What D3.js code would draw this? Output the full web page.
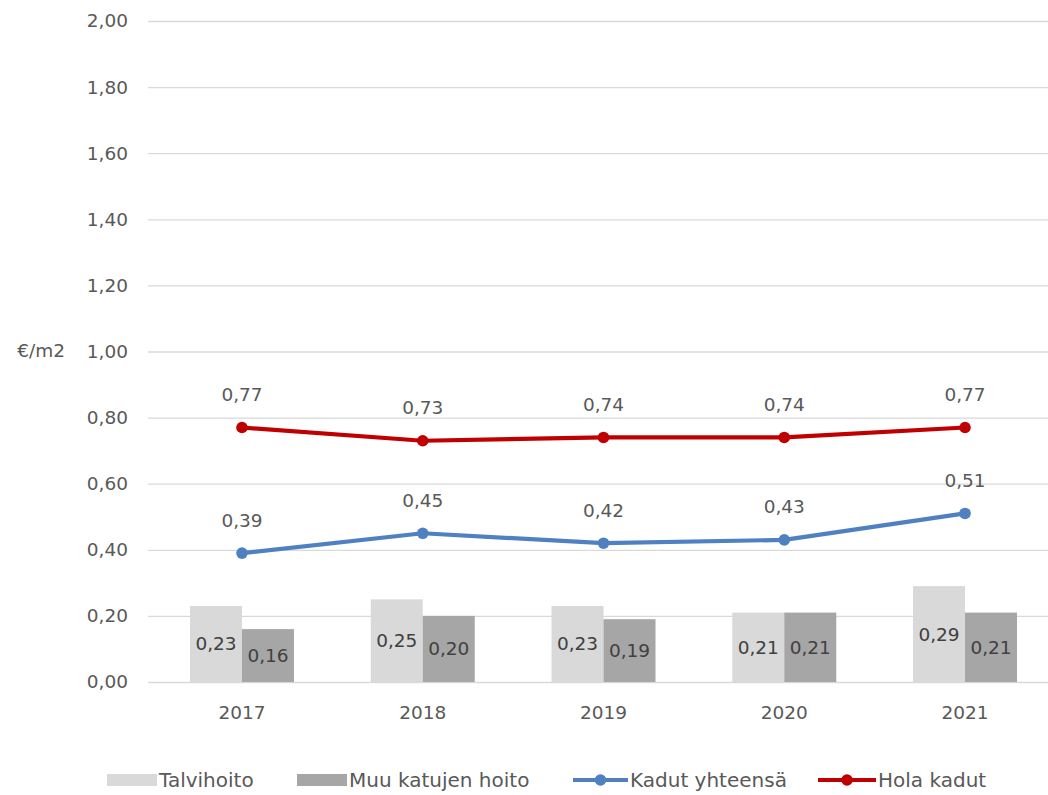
<!DOCTYPE html>
<html>
<head>
<meta charset="utf-8">
<script src="https://cdn.jsdelivr.net/npm/d3@7/dist/d3.min.js"></script>
<style>
  html, body { margin: 0; padding: 0; background: #fff; }
  svg { display: block; font-family: "DejaVu Sans", sans-serif; }
</style>
</head>
<body>
<svg id="chart" width="1048" height="795"></svg>
<script>
// Street maintenance cost per square metre, 2017–2021
const years = ["2017", "2018", "2019", "2020", "2021"];
const talvihoito = [0.23, 0.25, 0.23, 0.21, 0.29];
const muuHoito = [0.16, 0.20, 0.19, 0.21, 0.21];
const kadutYhteensa = [0.39, 0.45, 0.42, 0.43, 0.51];
const holaKadut = [0.77, 0.73, 0.74, 0.74, 0.77];
const yTicks = [0, 0.2, 0.4, 0.6, 0.8, 1.0, 1.2, 1.4, 1.6, 1.8, 2.0];
const seriesNames = ["Talvihoito", "Muu katujen hoito", "Kadut yhteensä", "Hola kadut"];

const colors = {
  talvi: "#d9d9d9",
  muu: "#a6a6a6",
  blue: "#4f81c2",
  red: "#c00000",
  text: "#595959",
  grid: "#d9d9d9"
};

const fmt = v => d3.format(".2f")(v).replace(".", ",");

const svg = d3.select("#chart");
const W = 1048;

const x = d3.scaleBand().domain(years).range([151.6, 1055.4]);
const y = d3.scaleLinear().domain([0, 2]).range([682, 21]);
const barW = 52;

// gridlines + y tick labels
const yAxis = d3.axisLeft(y)
  .tickValues(yTicks)
  .tickFormat(fmt)
  .tickSize(-(W - 148))
  .tickPadding(20);
const gy = svg.append("g").attr("transform", "translate(148,0)").call(yAxis);
gy.select(".domain").remove();
gy.selectAll(".tick line").attr("stroke", colors.grid).attr("stroke-width", 1.3);
gy.selectAll(".tick text")
  .attr("fill", colors.text)
  .attr("font-size", 18.5)
  .attr("font-family", "DejaVu Sans, sans-serif");

// y axis title
svg.append("text")
  .attr("x", 65).attr("y", y(1.0))
  .attr("dy", "0.32em")
  .attr("text-anchor", "end")
  .attr("fill", colors.text)
  .attr("font-size", 18.5)
  .text("€/m2");

// x axis labels
const xAxis = d3.axisBottom(x).tickSize(0).tickPadding(24);
const gx = svg.append("g").attr("transform", `translate(0,${y(0)})`).call(xAxis);
gx.select(".domain").remove();
gx.selectAll(".tick text")
  .attr("fill", colors.text)
  .attr("font-size", 18.5)
  .attr("font-family", "DejaVu Sans, sans-serif");

// bars
const cx = yr => x(yr) + x.bandwidth() / 2;
const barSeries = [
  { values: talvihoito, color: colors.talvi, offset: -barW },
  { values: muuHoito, color: colors.muu, offset: 0 }
];
barSeries.forEach(s => {
  const g = svg.append("g");
  g.selectAll("rect").data(years).join("rect")
    .attr("x", (d) => cx(d) + s.offset)
    .attr("width", barW)
    .attr("y", (d, i) => y(s.values[i]))
    .attr("height", (d, i) => y(0) - y(s.values[i]))
    .attr("fill", s.color);
  g.selectAll("text").data(years).join("text")
    .attr("x", d => cx(d) + s.offset + barW / 2)
    .attr("y", (d, i) => (y(s.values[i]) + y(0)) / 2)
    .attr("dy", "0.35em")
    .attr("text-anchor", "middle")
    .attr("fill", "#404040")
    .attr("font-size", 18.5)
    .text((d, i) => fmt(s.values[i]));
});

// lines with markers and labels
const lineSeries = [
  { values: kadutYhteensa, color: colors.blue },
  { values: holaKadut, color: colors.red }
];
const line = d3.line().x(d => cx(d.year)).y(d => y(d.v));
lineSeries.forEach(s => {
  const pts = years.map((yr, i) => ({ year: yr, v: s.values[i] }));
  const g = svg.append("g");
  g.append("path")
    .datum(pts)
    .attr("d", line)
    .attr("fill", "none")
    .attr("stroke", s.color)
    .attr("stroke-width", 4.2)
    .attr("stroke-linejoin", "round");
  g.selectAll("circle").data(pts).join("circle")
    .attr("cx", d => cx(d.year))
    .attr("cy", d => y(d.v))
    .attr("r", 5.8)
    .attr("fill", s.color);
  g.selectAll("text").data(pts).join("text")
    .attr("x", d => cx(d.year))
    .attr("y", d => y(d.v) - 33)
    .attr("dy", "0.35em")
    .attr("text-anchor", "middle")
    .attr("fill", colors.text)
    .attr("font-size", 18.5)
    .text(d => fmt(d.v));
});

// legend
const legendY = 780;
const legend = svg.append("g");
const items = [
  { name: seriesNames[0], type: "rect", color: colors.talvi, x0: 107, x1: 157 },
  { name: seriesNames[1], type: "rect", color: colors.muu, x0: 297, x1: 347 },
  { name: seriesNames[2], type: "line", color: colors.blue, x0: 573, x1: 628 },
  { name: seriesNames[3], type: "line", color: colors.red, x0: 818, x1: 876 }
];
items.forEach(it => {
  if (it.type === "rect") {
    legend.append("rect")
      .attr("x", it.x0).attr("y", legendY - 6)
      .attr("width", it.x1 - it.x0).attr("height", 12)
      .attr("fill", it.color);
  } else {
    legend.append("line")
      .attr("x1", it.x0).attr("x2", it.x1)
      .attr("y1", legendY).attr("y2", legendY)
      .attr("stroke", it.color).attr("stroke-width", 4.2);
    legend.append("circle")
      .attr("cx", (it.x0 + it.x1) / 2).attr("cy", legendY)
      .attr("r", 5.8).attr("fill", it.color);
  }
  legend.append("text")
    .attr("x", it.x1 + 2).attr("y", legendY)
    .attr("dy", "0.35em")
    .attr("fill", colors.text)
    .attr("font-size", 20)
    .text(it.name);
});
</script>
</body>
</html>
